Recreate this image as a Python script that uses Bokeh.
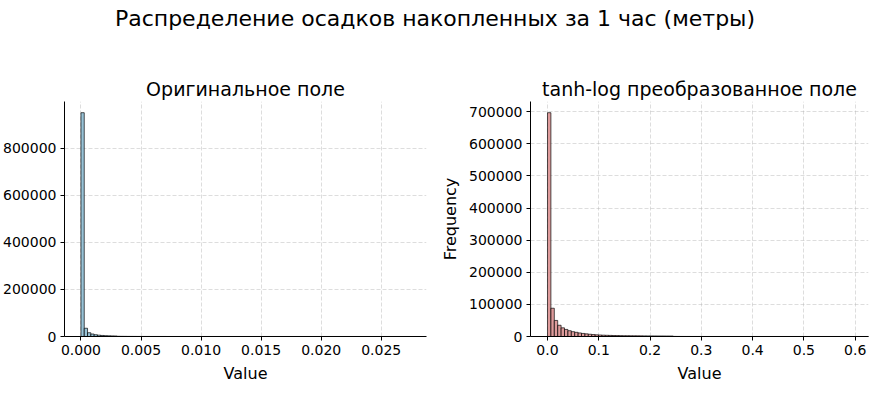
import numpy as np
from bokeh.plotting import figure
from bokeh.layouts import column, row
from bokeh.models import Div, FixedTicker, NumeralTickFormatter, Range1d
from bokeh.embed import file_html
from bokeh.resources import INLINE

# ---------------- data ----------------
main_title = "Распределение осадков накопленных за 1 час (метры)"
left_title = "Оригинальное поле"
right_title = "tanh-log преобразованное поле"
x_label = "Value"
y_label = "Frequency"

orig_min, orig_max = 0.0, 0.0274
orig_counts = [
    950000, 35000, 16000, 10500, 7500, 5600, 4400, 3600, 3000, 2600,
    2200, 900, 700, 560, 450, 370, 300, 250, 210, 180,
    150, 130, 110, 95, 80, 70, 60, 52, 45, 40,
    35, 30, 27, 24, 21, 19, 17, 15, 13, 12,
    11, 10, 9, 8, 7, 7, 6, 6, 5, 5,
    4, 4, 4, 3, 3, 3, 3, 2, 2, 2,
    2, 2, 2, 1, 1, 1, 1, 1, 1, 1,
    1, 1, 1, 1, 1, 1, 1, 1, 1, 1,
    1, 1, 1, 1, 1, 1, 1, 1, 1, 1,
    1, 1, 1, 1, 1, 1, 1, 1, 1, 1,
]

tl_min, tl_max = 0.0, 0.663
tl_counts = [
    697000, 88000, 50000, 35000, 27000, 22000, 18000, 15000, 13000, 11000,
    9500, 8200, 7000, 6000, 5200, 4600, 4100, 3700, 3400, 3100,
    2900, 2700, 2500, 2400, 2300, 2200, 2100, 2000, 1900, 1850,
    1800, 1750, 1700, 1650, 1600, 1550, 1500, 300, 200, 150,
    120, 100, 80, 70, 60, 50, 45, 40, 35, 30,
    28, 25, 22, 20, 18, 16, 15, 14, 13, 12,
    11, 10, 9, 8, 8, 7, 7, 6, 6, 5,
    5, 5, 4, 4, 4, 3, 3, 3, 3, 2,
    2, 2, 2, 2, 2, 2, 1, 1, 1, 1,
    1, 1, 1, 1, 1, 1, 1, 1, 1, 1,
]

orig_xticks = [0.0, 0.005, 0.010, 0.015, 0.020, 0.025]
orig_yticks = [0, 200000, 400000, 600000, 800000]
tl_xticks = [0.0, 0.1, 0.2, 0.3, 0.4, 0.5, 0.6]
tl_yticks = [0, 100000, 200000, 300000, 400000, 500000, 600000, 700000]

FONT = "DejaVu Sans"


def make_hist(counts, lo, hi, xr, xticks, xfmt, yticks, title, fill,
              width, mb_left, mb_right, ylabel):
    edges = np.linspace(lo, hi, len(counts) + 1)
    ytop = max(counts) * 1.05
    p = figure(width=width, height=353, output_backend="svg",
               toolbar_location=None, x_range=Range1d(*xr),
               y_range=Range1d(0, ytop), min_border_left=mb_left,
               min_border_right=mb_right, min_border_top=61,
               min_border_bottom=57, title=title)
    p.quad(left=edges[:-1], right=edges[1:], top=counts, bottom=0,
           fill_color=fill, fill_alpha=0.85, line_color="black",
           line_width=0.8, line_alpha=0.85)
    p.outline_line_color = None
    p.background_fill_color = "white"
    p.border_fill_color = "white"
    p.title.text_font = FONT
    p.title.text_font_size = "19px"
    p.title.text_font_style = "normal"
    p.title.align = "center"
    p.title.standoff = 4
    p.title.text_color = "black"

    p.xaxis.ticker = FixedTicker(ticks=xticks)
    p.xaxis.formatter = NumeralTickFormatter(format=xfmt)
    p.yaxis.ticker = FixedTicker(ticks=yticks)
    p.yaxis.formatter = NumeralTickFormatter(format="0")
    for ax in (p.xaxis, p.yaxis):
        ax.major_label_text_font = FONT
        ax.major_label_text_font_size = "14px"
        ax.major_label_text_color = "black"
        ax.axis_label_text_font = FONT
        ax.axis_label_text_font_size = "16px"
        ax.axis_label_text_font_style = "normal"
        ax.axis_label_text_color = "black"
        ax.minor_tick_line_color = None
        ax.major_tick_in = 0
        ax.major_tick_out = 4
        ax.major_label_standoff = 4
        ax.axis_label_standoff = 6
        ax.axis_line_color = "black"
        ax.major_tick_line_color = "black"
    p.xaxis.axis_label = x_label
    if ylabel:
        p.yaxis.axis_label = ylabel

    for g in (p.xgrid, p.ygrid):
        g.grid_line_color = "#b0b0b0"
        g.grid_line_alpha = 0.55
        g.grid_line_dash = "4 2"
        g.grid_line_width = 0.8
    p.xgrid.ticker = FixedTicker(ticks=xticks)
    p.ygrid.ticker = FixedTicker(ticks=yticks)
    return p


p1 = make_hist(orig_counts, orig_min, orig_max,
               (orig_min - 0.05 * (orig_max - orig_min), orig_max + 0.05 * (orig_max - orig_min)),
               orig_xticks, "0.000", orig_yticks, left_title, "#86b9d0",
               436, 62, 10, None)
p2 = make_hist(tl_counts, tl_min, tl_max,
               (tl_min - 0.05 * (tl_max - tl_min), 0.626),
               tl_xticks, "0.0", tl_yticks, right_title, "#d88a8a",
               434, 94, 2, y_label)

header = Div(text=f'<div style="width:870px;text-align:center;font-family:\'DejaVu Sans\';'
                  f'font-size:22px;line-height:38px;color:black;">{main_title}</div>',
             width=870, height=40, margin=0)

layout = column(header, row(p1, p2, spacing=0), spacing=0)
open("out.html", "w").write(file_html(layout, INLINE))
